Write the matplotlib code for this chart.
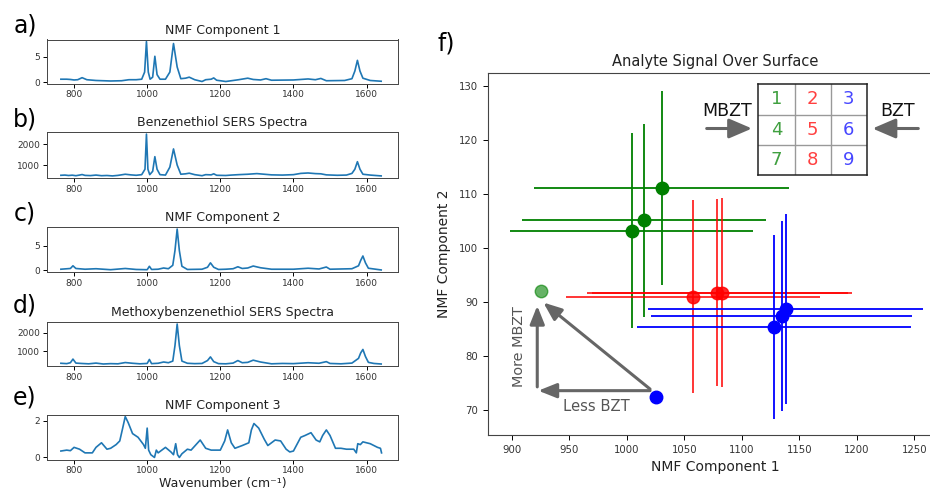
import matplotlib
matplotlib.use("Agg")
import matplotlib.pyplot as plt

# ---------------- data ----------------
wn_ticks = [800, 1000, 1200, 1400, 1600]

a_x = [764, 780, 790, 800, 810, 822, 835, 860, 900, 930, 950, 970, 985, 993, 998, 1003, 1008,
       1015, 1021, 1027, 1035, 1050, 1062, 1072, 1082, 1092, 1105, 1115, 1130, 1150, 1160,
       1175, 1182, 1190, 1215, 1230, 1250, 1275, 1290, 1310, 1325, 1340, 1400, 1440, 1460,
       1475, 1490, 1540, 1560, 1568, 1575, 1582, 1590, 1610, 1640]
a_y = [0.6, 0.6, 0.55, 0.45, 0.5, 0.9, 0.5, 0.35, 0.25, 0.3, 0.5, 0.5, 0.6, 2.0, 8.0, 2.0, 0.6,
       1.0, 5.1, 1.5, 0.6, 0.6, 2.0, 7.6, 3.0, 0.7, 0.8, 1.0, 0.5, 0.15, 0.5,
       0.6, 0.85, 0.4, 0.15, 0.3, 0.5, 0.8, 0.55, 0.45, 0.7, 0.4, 0.45, 0.65, 0.5,
       0.75, 0.3, 0.35, 0.7, 2.2, 4.3, 2.2, 0.8, 0.35, 0.2]

b_x = [764, 775, 785, 795, 805, 815, 822, 830, 845, 860, 875, 890, 905, 920, 940, 955, 970,
       985, 994, 998, 1002, 1007, 1015, 1021, 1027, 1035, 1050, 1062, 1072, 1082, 1092, 1105,
       1115, 1130, 1150, 1160, 1175, 1182, 1190, 1215, 1230, 1250, 1275, 1300, 1320, 1340,
       1370, 1400, 1420, 1440, 1460, 1475, 1490, 1520, 1545, 1560, 1568, 1575, 1582, 1590,
       1610, 1625, 1640]
b_y = [510, 520, 500, 515, 490, 520, 545, 505, 495, 520, 490, 500, 480, 505, 560, 530, 510,
       540, 800, 2480, 800, 540, 700, 1400, 800, 540, 520, 900, 1770, 1000, 560, 580,
       610, 540, 490, 540, 530, 580, 510, 500, 520, 540, 560, 590, 560, 530,
       520, 540, 600, 620, 590, 580, 530, 510, 520, 600, 800, 1160, 800, 560,
       520, 500, 480]

c_x = [764, 790, 797, 805, 830, 860, 900, 940, 970, 1000, 1006, 1012, 1030, 1045, 1058, 1070,
       1076, 1082, 1088, 1095, 1110, 1150, 1165, 1173, 1182, 1195, 1215, 1235, 1248, 1260,
       1275, 1290, 1310, 1340, 1400, 1440, 1470, 1490, 1500, 1560, 1578, 1584, 1590, 1597,
       1605, 1640]
c_y = [0.2, 0.35, 0.9, 0.35, 0.2, 0.3, 0.1, 0.35, 0.15, 0.1, 0.8, 0.15, 0.2, 0.45, 0.3, 1.0,
       4.0, 8.4, 4.0, 0.8, 0.15, 0.2, 0.6, 1.5, 0.6, 0.15, 0.2, 0.3, 0.7, 0.35,
       0.45, 0.85, 0.5, 0.2, 0.2, 0.4, 0.25, 0.65, 0.2, 0.3, 0.9, 2.0, 2.9, 1.5,
       0.4, 0.05]

d_x = [764, 780, 790, 797, 805, 820, 840, 860, 880, 900, 920, 940, 960, 980, 1000, 1006, 1012,
       1030, 1045, 1058, 1070, 1076, 1082, 1088, 1095, 1110, 1130, 1150, 1165, 1173, 1182,
       1195, 1215, 1235, 1248, 1260, 1275, 1290, 1310, 1340, 1370, 1400, 1440, 1470, 1490,
       1500, 1530, 1560, 1578, 1584, 1590, 1597, 1605, 1620, 1640]
d_y = [330, 310, 360, 560, 340, 320, 300, 340, 290, 310, 300, 370, 330, 300, 320, 540, 310,
       330, 400, 360, 450, 1300, 2490, 1300, 450, 330, 310, 320, 480, 680, 420,
       310, 300, 340, 480, 360, 380, 500, 400, 300, 320, 310, 360, 330, 420,
       320, 300, 340, 600, 900, 1090, 700, 380, 320, 290]

e_x = [764, 780, 790, 800, 815, 830, 850, 860, 875, 890, 900, 915, 925, 933, 940, 948, 960,
       975, 990, 995, 1000, 1004, 1010, 1020, 1025, 1030, 1050, 1065, 1072, 1078, 1083,
       1088, 1095, 1110, 1120, 1145, 1160, 1175, 1200, 1212, 1220, 1230, 1240, 1260, 1278,
       1285, 1292, 1305, 1320, 1330, 1350, 1365, 1380, 1390, 1400, 1420, 1432, 1448, 1462,
       1472, 1480, 1490, 1500, 1515, 1530, 1545, 1565, 1572, 1576, 1583, 1590, 1610, 1630,
       1638, 1641]
e_y = [0.35, 0.4, 0.37, 0.55, 0.45, 0.25, 0.25, 0.55, 0.8, 0.45, 0.5, 0.7, 0.9, 1.6, 2.23,
       1.9, 1.3, 1.1, 0.7, 0.5, 1.6, 0.4, 0.15, 0.0, 0.4, 0.25, 0.55, 0.3, 0.15, 0.75, 0.15,
       0.0, 0.2, 0.45, 0.4, 0.95, 0.5, 0.4, 0.4, 0.9, 1.5, 0.8, 0.5, 0.65, 0.8,
       1.5, 1.85, 1.6, 1.0, 0.65, 0.95, 0.9, 0.45, 0.3, 0.35, 1.1, 1.2, 1.35, 0.95,
       0.85, 1.2, 1.5, 1.2, 0.5, 0.5, 0.45, 0.45, 0.25, 0.75, 0.7, 0.85, 0.75, 0.55,
       0.5, 0.25]

panel_titles = ["NMF Component 1", "Benzenethiol SERS Spectra", "NMF Component 2",
                "Methoxybenzenethiol SERS Spectra", "NMF Component 3"]
panel_letters = ["a)", "b)", "c)", "d)", "e)"]
panel_yticks = [[0, 5], [1000, 2000], [0, 5], [1000, 2000], [0, 2]]

# scatter (NMF comp 1, NMF comp 2) with errors, grouped by surface column
green_x = [1030.2, 1014.7, 1004.1]
green_y = [111.1, 105.1, 103.2]
green_xerr = [111, 106, 106]
green_yerr = [18, 17.9, 18]

red_x = [1057.6, 1078.5, 1082.4]
red_y = [91.0, 91.7, 91.7]
red_xerr = [110, 113.4, 113]
red_yerr = [17.8, 17.3, 17.5]

blue_x = [1128.0, 1134.8, 1138.0]
blue_y = [85.4, 87.4, 88.7]
blue_xerr = [119, 113.4, 119.3]
blue_yerr = [17, 17.5, 17.5]

mbzt_pt = (925.2, 92.1)
bzt_pt = (1025.1, 72.5)

grid_numbers = [["1", "2", "3"], ["4", "5", "6"], ["7", "8", "9"]]
grid_colors = [(0.0, 0.5, 0.0, 0.75), (1.0, 0.0, 0.0, 0.75), (0.0, 0.0, 1.0, 0.72)]

# ---------------- figure ----------------
W, H = 930, 495
fig = plt.figure(figsize=(W / 100, H / 100), dpi=100)


def box(l, t, r, b):
    return [l / W, 1 - b / H, (r - l) / W, (b - t) / H]


def fp(x, y):
    return (x / W, 1 - y / H)


tick_col = "#333333"
panel_boxes = [(47, 39.5, 398, 83.5), (47, 132, 398, 178), (47, 227, 398, 272),
               (47, 322, 398, 366), (47, 414.5, 398, 459.5)]
series = [(a_x, a_y), (b_x, b_y), (c_x, c_y), (d_x, d_y), (e_x, e_y)]
label_y = [25, 120, 213, 305, 397]

for i, ((xs, ys), pb) in enumerate(zip(series, panel_boxes)):
    ax = fig.add_axes(box(*pb))
    ax.plot(xs, ys, color="#1f77b4", lw=1.2)
    ax.set_xlim(726, 1686)
    ax.set_xticks(wn_ticks)
    ax.set_yticks(panel_yticks[i])
    ax.tick_params(labelsize=6.5, labelcolor=tick_col, length=3, width=0.7, pad=2)
    ax.set_title(panel_titles[i], fontsize=9, color="#222222", pad=4)
    for s in ax.spines.values():
        s.set_linewidth(0.7)
        s.set_color("#444444")
    if i == 4:
        ax.set_xlabel("Wavenumber (cm\u207b\u00b9)", fontsize=9, color="#222222", labelpad=1)
    fig.text(*fp(25, label_y[i]), panel_letters[i], fontsize=17, ha="center", va="center")

fig.text(*fp(446, 43), "f)", fontsize=17, ha="center", va="center")

# ---------------- right panel ----------------
axf = fig.add_axes(box(488, 73.3, 942, 435))
axf.set_xlim(879.4, 1273.9)
axf.set_ylim(65.4, 132.3)
eb_kw = dict(fmt="o", ms=9, elinewidth=1.3, capsize=0)
axf.errorbar(green_x, green_y, xerr=green_xerr, yerr=green_yerr, color="green", **eb_kw)
axf.errorbar(red_x, red_y, xerr=red_xerr, yerr=red_yerr, color="red", alpha=0.85,
             **eb_kw)
axf.errorbar(blue_x, blue_y, xerr=blue_xerr, yerr=blue_yerr, color="blue", **eb_kw)
axf.plot(*mbzt_pt, "o", ms=9, color="green", alpha=0.6)
axf.plot(*bzt_pt, "o", ms=9, color="blue")
axf.set_xticks([900, 950, 1000, 1050, 1100, 1150, 1200, 1250])
axf.set_yticks([70, 80, 90, 100, 110, 120, 130])
axf.tick_params(labelsize=7.3, labelcolor=tick_col, length=3.5, width=0.7)
for s in axf.spines.values():
    s.set_linewidth(0.8)
    s.set_color("#444444")
axf.set_title("Analyte Signal Over Surface", fontsize=10.5, color="#222222", pad=5)
axf.set_xlabel("NMF Component 1", fontsize=10, color="#222222", labelpad=4)
axf.set_ylabel("NMF Component 2", fontsize=10, color="#222222", labelpad=6)

arr_col = "#666666"
astyle = dict(arrowstyle="-|>,head_length=0.55,head_width=0.22", color=arr_col, lw=2.2,
              mutation_scale=20, shrinkA=0, shrinkB=0)
axf.annotate("", xy=(923.1, 73.6), xytext=(1020.2, 73.6), arrowprops=astyle)
axf.annotate("", xy=(922.2, 89.3), xytext=(922.2, 74.3), arrowprops=astyle)
axf.annotate("", xy=(927.5, 89.9), xytext=(1020.2, 73.9), arrowprops=astyle)
axf.text(973.8, 70.7, "Less BZT", fontsize=10.7, color="#555555", ha="center", va="center")
axf.text(906.6, 81.8, "More MBZT", fontsize=10.4, color="#555555", ha="center",
         va="center", rotation=90)

# ---------------- surface grid inset ----------------
axg = fig.add_axes(box(758.3, 84.3, 867.0, 175.0))
axg.set_xlim(0, 3)
axg.set_ylim(3, 0)
axg.set_xticks([])
axg.set_yticks([])
for s in axg.spines.values():
    s.set_linewidth(1.1)
    s.set_color("#222222")
for k in (1, 2):
    axg.axvline(k, color="#999999", lw=1.0)
    axg.axhline(k, color="#999999", lw=1.0)
for r in range(3):
    for c in range(3):
        axg.text(c + 0.5, r + 0.5, grid_numbers[r][c], fontsize=13, color=grid_colors[c],
                 ha="center", va="center")

fig.text(*fp(727, 111), "MBZT", fontsize=12.5, ha="center", va="center", color="#111111")
fig.text(*fp(898, 111), "BZT", fontsize=12.5, ha="center", va="center", color="#111111")
fstyle = dict(arrowstyle="-|>,head_length=0.7,head_width=0.3", color=arr_col, lw=2.2,
              mutation_scale=20, shrinkA=0, shrinkB=0)
fig.add_artist(matplotlib.patches.FancyArrowPatch(fp(706.7, 128.5), fp(752.0, 128.5),
                                                  transform=fig.transFigure, **fstyle))
fig.add_artist(matplotlib.patches.FancyArrowPatch(fp(918.3, 128.5), fp(872.5, 128.5),
                                                  transform=fig.transFigure, **fstyle))

fig.savefig("out.png", dpi=100)
